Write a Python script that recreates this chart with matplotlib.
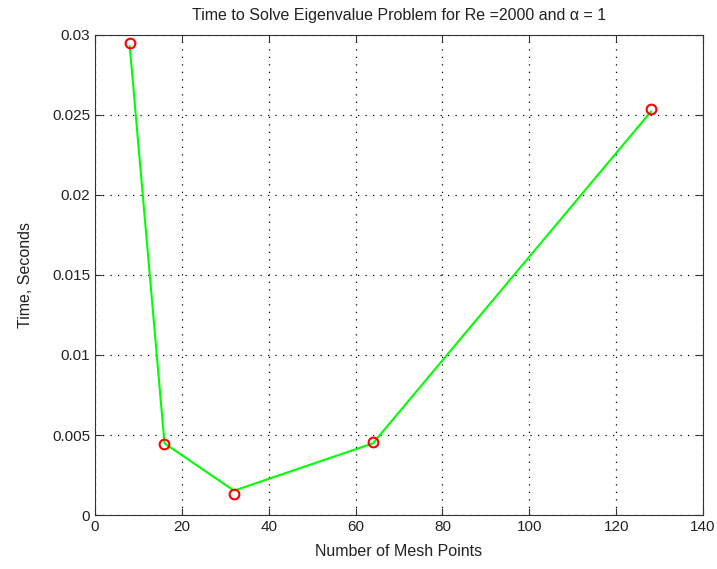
import numpy as np
import matplotlib.pyplot as plt

plt.rcParams['font.family'] = ['Liberation Sans', 'DejaVu Sans']

mesh_points = [8, 16, 32, 64, 128]
time_markers = [0.02952, 0.00442, 0.00131, 0.00458, 0.02540]
time_line = [0.02930, 0.00448, 0.00152, 0.00448, 0.02521]

fig = plt.figure(figsize=(7.17, 5.69), dpi=100)
ax = fig.add_axes([0.1325, 0.0949, 0.848, 0.8436])

ax.plot(mesh_points, time_line, "-", color=(0, 1, 0), lw=1.5, zorder=3)
ax.plot(mesh_points, time_markers, "o", mfc="none", mec="red", mew=1.5, ms=7, zorder=4)

ax.set_xlim(0, 140)
ax.set_ylim(0, 0.03)
ax.set_xticks(np.arange(0, 141, 20))
ax.set_yticks([0, 0.005, 0.01, 0.015, 0.02, 0.025, 0.03])
ax.set_yticklabels(["0", "0.005", "0.01", "0.015", "0.02", "0.025", "0.03"])
ax.grid(True, linestyle=(0, (1, 5)), color="black", lw=0.9)
ax.tick_params(direction="in", top=True, right=True, labelsize=11, length=5, colors="#333333",
               labelcolor="#222222")
for s in ax.spines.values():
    s.set_color("#333333")

ax.set_title("Time to Solve Eigenvalue Problem for Re =2000 and α = 1", fontsize=11.5, pad=11,
             color="#222222")
ax.set_xlabel("Number of Mesh Points", fontsize=11.5, labelpad=7, color="#222222")
ax.set_ylabel("Time, Seconds", fontsize=11.5, labelpad=14, color="#222222")

fig.savefig("out.png", dpi=100)
